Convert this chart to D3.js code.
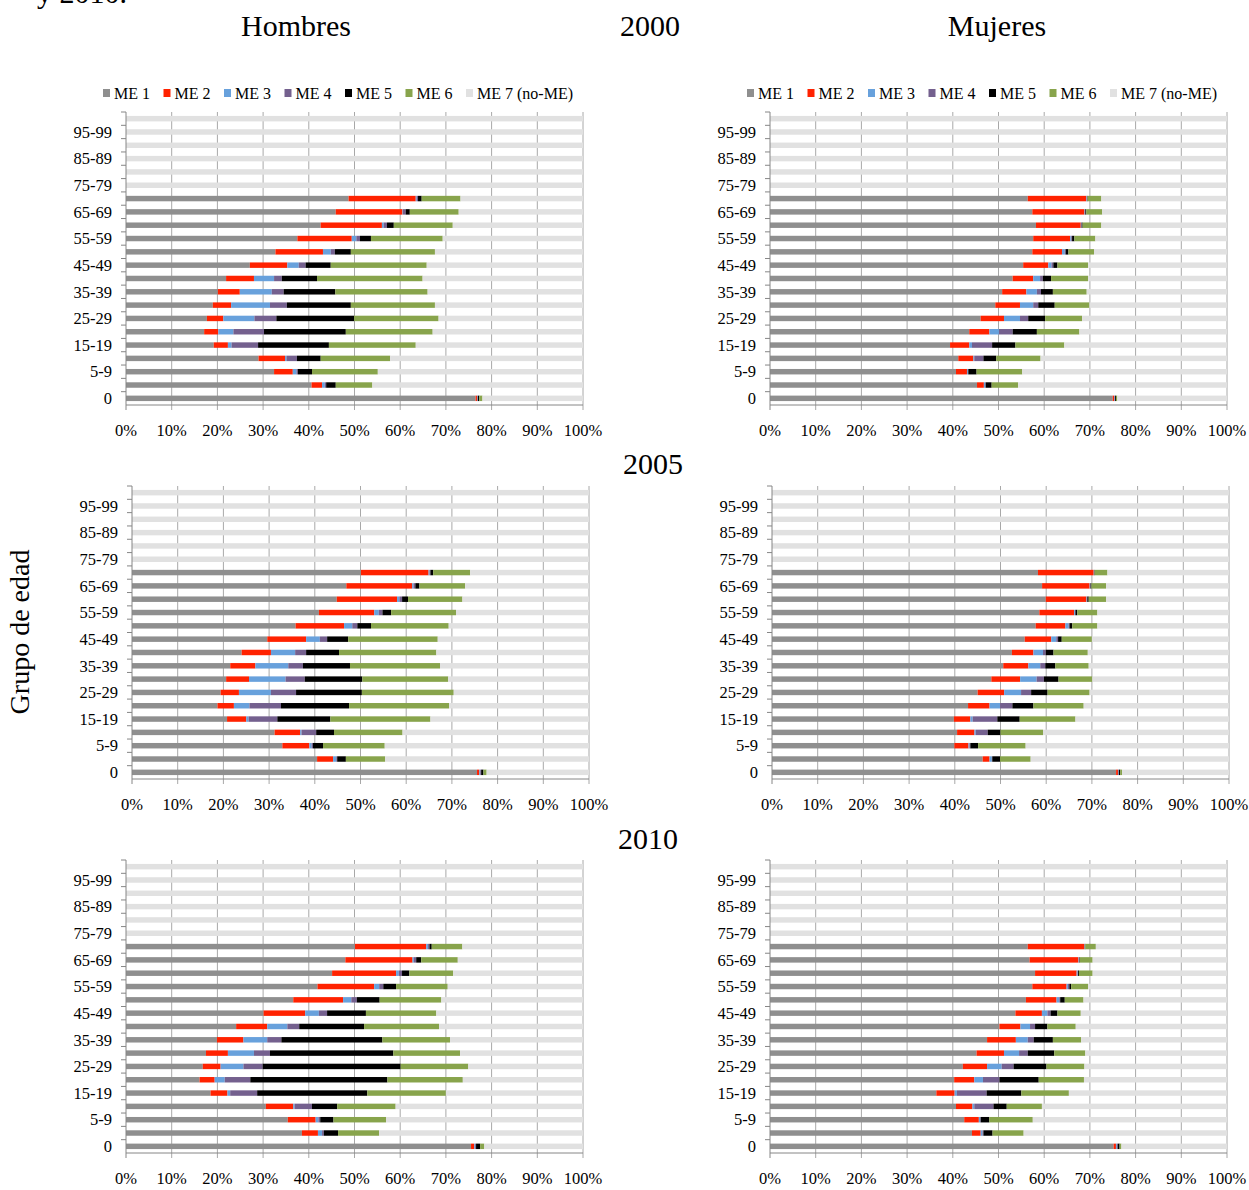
<!DOCTYPE html>
<html>
<head>
<meta charset="utf-8">
<script src="https://cdn.jsdelivr.net/npm/d3@7"></script>
<style>
  body { margin: 0; background: #fff; }
  svg { display: block; font-family: "Liberation Serif", "Times New Roman", serif; }
</style>
</head>
<body>
<div id="visualization"></div>
<script>
// Grupos de edad (de abajo hacia arriba)
const ageGroups = ["0", "1-4", "5-9", "10-14", "15-19", "20-24", "25-29", "30-34", "35-39", "40-44",
  "45-49", "50-54", "55-59", "60-64", "65-69", "70-74", "75-79", "80-84", "85-89", "90-94", "95-99", "100+"];
const seriesNames = ["ME 1", "ME 2", "ME 3", "ME 4", "ME 5", "ME 6", "ME 7 (no-ME)"];
const seriesColors = ["#8f8f8f", "#ff2200", "#68a1dc", "#74608e", "#000000", "#88a44c", "#e1e1e1"];
const xTickValues = [0, 10, 20, 30, 40, 50, 60, 70, 80, 90, 100];

// Hombres 2000
const h2000_me1 = [76.5, 40.6, 32.4, 29.0, 19.2, 17.1, 17.7, 19.0, 20.1, 21.9, 27.1, 32.7, 37.5, 42.6, 45.9, 48.7, 0, 0, 0, 0, 0, 0];
const h2000_me2 = [0.3, 2.3, 4.1, 5.8, 3.1, 3.1, 3.6, 4.0, 4.8, 6.1, 8.2, 10.4, 11.9, 13.4, 14.6, 14.7, 0, 0, 0, 0, 0, 0];
const h2000_me3 = [0.1, 0.6, 0.8, 0.3, 0.8, 3.3, 6.8, 8.5, 7.0, 4.4, 2.5, 1.7, 1.0, 0.4, 0.1, 0.2, 0, 0, 0, 0, 0, 0];
const h2000_me4 = [0.1, 0.3, 0.3, 2.3, 5.8, 6.7, 4.8, 3.7, 2.6, 1.7, 1.5, 0.9, 0.8, 0.7, 0.6, 0.3, 0, 0, 0, 0, 0, 0];
const h2000_me5 = [0.3, 2.1, 3.1, 5.2, 15.5, 17.9, 17.0, 14.0, 11.3, 7.7, 5.5, 3.5, 2.4, 1.5, 0.9, 0.8, 0, 0, 0, 0, 0, 0];
const h2000_me6 = [0.7, 8.0, 14.4, 15.2, 19.0, 19.0, 18.5, 18.4, 20.2, 23.1, 21.0, 18.4, 15.7, 12.9, 10.7, 8.5, 0, 0, 0, 0, 0, 0];
const h2000_me7 = [22.0, 46.1, 44.9, 42.2, 36.6, 32.9, 31.6, 32.4, 34.0, 35.1, 34.2, 32.4, 30.7, 28.5, 27.2, 26.8, 100, 100, 100, 100, 100, 100];

// Mujeres 2000
const m2000_me1 = [75.0, 45.3, 40.7, 41.2, 39.4, 43.6, 46.1, 49.3, 50.8, 53.1, 55.4, 57.4, 57.6, 58.2, 57.4, 56.4, 0, 0, 0, 0, 0, 0];
const m2000_me2 = [0.3, 1.5, 2.4, 3.3, 4.2, 4.4, 5.1, 5.4, 5.3, 4.5, 5.5, 6.5, 8.1, 9.8, 11.4, 12.8, 0, 0, 0, 0, 0, 0];
const m2000_me3 = [0.1, 0.3, 0.2, 0.2, 0.6, 2.1, 3.5, 2.9, 2.3, 1.5, 0.7, 0.6, 0.2, 0.1, 0.1, 0.1, 0, 0, 0, 0, 0, 0];
const m2000_me4 = [0.1, 0.1, 0.1, 2.0, 4.4, 3.0, 1.8, 1.1, 0.9, 0.6, 0.4, 0.2, 0.2, 0.1, 0.1, 0.1, 0, 0, 0, 0, 0, 0];
const m2000_me5 = [0.2, 1.3, 1.8, 2.8, 5.1, 5.3, 3.7, 3.6, 2.6, 1.8, 0.9, 0.6, 0.5, 0.2, 0.2, 0.1, 0, 0, 0, 0, 0, 0];
const m2000_me6 = [0.3, 5.8, 10.0, 9.7, 10.7, 9.3, 8.1, 7.6, 7.4, 8.1, 6.7, 5.6, 4.6, 4.1, 3.5, 3.0, 0, 0, 0, 0, 0, 0];
const m2000_me7 = [24.0, 45.7, 44.8, 40.8, 35.6, 32.3, 31.7, 30.1, 30.7, 30.4, 30.4, 29.1, 28.8, 27.5, 27.3, 27.5, 100, 100, 100, 100, 100, 100];

// Hombres 2005
const h2005_me1 = [75.5, 40.5, 32.9, 31.2, 20.8, 18.7, 19.4, 20.6, 21.5, 24.0, 29.6, 35.8, 40.9, 44.8, 46.9, 50.1, 0, 0, 0, 0, 0, 0];
const h2005_me2 = [0.5, 3.5, 5.9, 5.6, 4.2, 3.6, 4.0, 5.0, 5.5, 6.4, 8.5, 10.6, 12.1, 13.2, 14.4, 14.8, 0, 0, 0, 0, 0, 0];
const h2005_me3 = [0.2, 0.7, 0.5, 0.3, 0.5, 3.4, 7.0, 8.0, 7.2, 5.3, 3.0, 1.8, 1.0, 0.5, 0.3, 0.2, 0, 0, 0, 0, 0, 0];
const h2005_me4 = [0.2, 0.2, 0.3, 3.2, 6.3, 6.9, 5.5, 4.2, 3.2, 2.4, 1.6, 1.1, 0.8, 0.6, 0.4, 0.2, 0, 0, 0, 0, 0, 0];
const h2005_me5 = [0.5, 1.9, 2.2, 3.9, 11.6, 14.9, 14.4, 12.6, 10.3, 7.2, 4.6, 3.0, 1.9, 1.3, 0.9, 0.6, 0, 0, 0, 0, 0, 0];
const h2005_me6 = [0.7, 8.6, 13.5, 15.0, 21.9, 21.9, 20.1, 18.8, 19.7, 21.3, 19.6, 17.0, 14.2, 11.9, 10.0, 8.1, 0, 0, 0, 0, 0, 0];
const h2005_me7 = [22.4, 44.6, 44.7, 40.8, 34.7, 30.6, 29.6, 30.8, 32.6, 33.4, 33.1, 30.7, 29.1, 27.7, 27.1, 26.0, 100, 100, 100, 100, 100, 100];

// Mujeres 2005
const m2005_me1 = [75.3, 46.1, 39.9, 40.5, 39.8, 42.9, 45.0, 48.0, 50.6, 52.5, 55.3, 57.7, 58.5, 59.9, 59.1, 58.2, 0, 0, 0, 0, 0, 0];
const m2005_me2 = [0.4, 1.5, 3.1, 3.8, 3.6, 4.7, 5.8, 6.3, 5.5, 4.7, 5.8, 6.5, 7.6, 8.9, 10.4, 12.2, 0, 0, 0, 0, 0, 0];
const m2005_me3 = [0.1, 0.5, 0.2, 0.3, 0.5, 2.3, 3.7, 3.6, 2.6, 2.1, 1.1, 0.7, 0.2, 0.1, 0.1, 0.1, 0, 0, 0, 0, 0, 0];
const m2005_me4 = [0.1, 0.1, 0.2, 2.6, 5.4, 2.7, 2.2, 1.6, 1.1, 0.6, 0.4, 0.2, 0.1, 0.1, 0.1, 0.0, 0, 0, 0, 0, 0, 0];
const m2005_me5 = [0.3, 1.7, 1.7, 2.8, 4.9, 4.6, 3.6, 3.2, 2.2, 1.7, 0.8, 0.6, 0.4, 0.3, 0.2, 0.1, 0, 0, 0, 0, 0, 0];
const m2005_me6 = [0.4, 6.7, 10.4, 9.3, 12.2, 11.0, 9.2, 7.4, 7.3, 7.5, 6.6, 5.5, 4.4, 3.8, 3.2, 2.8, 0, 0, 0, 0, 0, 0];
const m2005_me7 = [23.4, 43.4, 44.5, 40.7, 33.6, 31.8, 30.5, 29.9, 30.7, 30.9, 30.0, 28.8, 28.8, 26.9, 26.9, 26.6, 100, 100, 100, 100, 100, 100];

// Hombres 2010
const h2010_me1 = [75.5, 38.5, 35.4, 30.6, 18.5, 16.1, 16.8, 17.5, 19.9, 24.1, 30.1, 36.6, 41.9, 45.1, 48.0, 50.1, 0, 0, 0, 0, 0, 0];
const h2010_me2 = [0.7, 3.5, 6.1, 6.0, 3.7, 3.3, 3.9, 4.8, 5.8, 6.8, 9.1, 10.9, 12.4, 14.0, 14.7, 15.6, 0, 0, 0, 0, 0, 0];
const h2010_me3 = [0.2, 0.9, 0.6, 0.3, 0.6, 2.2, 5.0, 5.7, 5.2, 4.4, 3.0, 1.8, 1.1, 0.6, 0.3, 0.4, 0, 0, 0, 0, 0, 0];
const h2010_me4 = [0.2, 0.4, 0.4, 3.8, 5.9, 5.6, 4.2, 3.5, 3.1, 2.6, 1.8, 1.2, 0.9, 0.7, 0.5, 0.3, 0, 0, 0, 0, 0, 0];
const h2010_me5 = [0.9, 3.1, 2.9, 5.5, 24.1, 30.0, 30.2, 27.0, 22.1, 14.2, 8.5, 5.0, 2.8, 1.6, 1.1, 0.5, 0, 0, 0, 0, 0, 0];
const h2010_me6 = [0.9, 9.0, 11.5, 12.8, 17.2, 16.5, 14.8, 14.6, 14.8, 16.4, 15.4, 13.5, 11.3, 9.6, 8.0, 6.7, 0, 0, 0, 0, 0, 0];
const h2010_me7 = [21.6, 44.6, 43.1, 41.0, 30.0, 26.3, 25.1, 26.9, 29.1, 31.5, 32.1, 31.0, 29.6, 28.4, 27.4, 26.4, 100, 100, 100, 100, 100, 100];

// Mujeres 2010
const m2010_me1 = [75.2, 44.2, 42.5, 40.7, 36.4, 40.3, 42.2, 45.2, 47.5, 50.2, 53.7, 56.0, 57.4, 58.0, 56.8, 56.4, 0, 0, 0, 0, 0, 0];
const m2010_me2 = [0.5, 1.9, 3.2, 3.6, 4.0, 4.4, 5.3, 6.0, 6.3, 4.6, 5.8, 6.7, 7.5, 9.1, 10.7, 12.4, 0, 0, 0, 0, 0, 0];
const m2010_me3 = [0.2, 0.4, 0.3, 0.4, 0.5, 1.9, 3.2, 3.3, 2.6, 2.1, 1.2, 0.6, 0.3, 0.2, 0.1, 0.1, 0, 0, 0, 0, 0, 0];
const m2010_me4 = [0.2, 0.2, 0.1, 4.2, 6.5, 3.6, 2.6, 1.9, 1.3, 1.1, 0.7, 0.2, 0.3, 0.1, 0.1, 0.0, 0, 0, 0, 0, 0, 0];
const m2010_me5 = [0.4, 2.0, 1.9, 2.9, 7.6, 8.6, 7.2, 5.8, 4.2, 2.7, 1.5, 1.0, 0.4, 0.2, 0.1, 0.1, 0, 0, 0, 0, 0, 0];
const m2010_me6 = [0.4, 6.8, 9.5, 7.7, 10.4, 9.9, 8.3, 6.8, 6.2, 6.2, 5.1, 4.1, 3.7, 3.0, 2.8, 2.3, 0, 0, 0, 0, 0, 0];
const m2010_me7 = [23.1, 44.5, 42.5, 40.5, 34.6, 31.3, 31.2, 31.0, 31.9, 33.1, 32.0, 31.4, 30.4, 29.4, 29.4, 28.7, 100, 100, 100, 100, 100, 100];

// Posicion de cada panel (px)
const panels = [
  { series: [h2000_me1, h2000_me2, h2000_me3, h2000_me4, h2000_me5, h2000_me6, h2000_me7], left: 126, top: 112, legend: true },
  { series: [m2000_me1, m2000_me2, m2000_me3, m2000_me4, m2000_me5, m2000_me6, m2000_me7], left: 770, top: 112, legend: true },
  { series: [h2005_me1, h2005_me2, h2005_me3, h2005_me4, h2005_me5, h2005_me6, h2005_me7], left: 132, top: 486, legend: false },
  { series: [m2005_me1, m2005_me2, m2005_me3, m2005_me4, m2005_me5, m2005_me6, m2005_me7], left: 772, top: 486, legend: false },
  { series: [h2010_me1, h2010_me2, h2010_me3, h2010_me4, h2010_me5, h2010_me6, h2010_me7], left: 126, top: 860, legend: false },
  { series: [m2010_me1, m2010_me2, m2010_me3, m2010_me4, m2010_me5, m2010_me6, m2010_me7], left: 770, top: 860, legend: false }
];

const plotW = 457;
const plotH = 293;
const axisColor = "#868686";
const gridColor = "#a8a8a8";

const svg = d3.select("#visualization")
  .append("svg")
  .attr("width", 1249)
  .attr("height", 1190);

// Titulos (el primero aparece cortado en el borde superior, como en el original)
const titles = [
  { text: "y 2010.", x: 37, y: 3, anchor: "start" },
  { text: "Hombres", x: 296, y: 36, anchor: "middle" },
  { text: "2000", x: 650, y: 36, anchor: "middle" },
  { text: "Mujeres", x: 997, y: 36, anchor: "middle" },
  { text: "2005", x: 653, y: 474, anchor: "middle" },
  { text: "2010", x: 648, y: 849, anchor: "middle" }
];
svg.selectAll("text.title")
  .data(titles)
  .enter()
  .append("text")
  .attr("class", "title")
  .attr("x", d => d.x)
  .attr("y", d => d.y)
  .attr("text-anchor", d => d.anchor)
  .style("font-size", "30px")
  .text(d => d.text);

svg.append("text")
  .attr("transform", "translate(29,632) rotate(-90)")
  .attr("text-anchor", "middle")
  .style("font-size", "28px")
  .text("Grupo de edad");

function drawPanel(p) {
  const g = svg.append("g");

  const x = d3.scaleLinear().domain([0, 100]).range([p.left, p.left + plotW]);
  const y = d3.scaleBand()
    .domain(ageGroups)
    .range([p.top + plotH, p.top])
    .paddingInner(0.59)
    .paddingOuter(0.295);

  // Filas para d3.stack
  const rows = ageGroups.map((a, i) => {
    const r = { age: a };
    seriesNames.forEach((s, k) => { r[s] = p.series[k][i]; });
    return r;
  });
  const stacked = d3.stack().keys(seriesNames).offset(d3.stackOffsetExpand)(rows);

  // Lineas de cuadricula
  g.append("g")
    .selectAll("line")
    .data(xTickValues.slice(1))
    .enter()
    .append("line")
    .attr("x1", d => x(d))
    .attr("x2", d => x(d))
    .attr("y1", p.top)
    .attr("y2", p.top + plotH + 5)
    .attr("stroke", gridColor)
    .attr("stroke-width", 1);

  // Barras apiladas al 100%
  g.append("g")
    .selectAll("g")
    .data(stacked)
    .enter()
    .append("g")
    .attr("fill", (d, i) => seriesColors[i])
    .selectAll("rect")
    .data(d => d)
    .enter()
    .append("rect")
    .attr("x", d => x(d[0] * 100))
    .attr("width", d => Math.max(0, x(d[1] * 100) - x(d[0] * 100)))
    .attr("y", d => y(d.data.age))
    .attr("height", y.bandwidth());

  // Eje X
  g.append("line")
    .attr("x1", p.left).attr("x2", p.left + plotW)
    .attr("y1", p.top + plotH).attr("y2", p.top + plotH)
    .attr("stroke", axisColor);
  g.append("line")
    .attr("x1", p.left).attr("x2", p.left)
    .attr("y1", p.top + plotH).attr("y2", p.top + plotH + 5)
    .attr("stroke", axisColor);
  g.append("g")
    .selectAll("text")
    .data(xTickValues)
    .enter()
    .append("text")
    .attr("x", d => x(d))
    .attr("y", p.top + plotH + 31)
    .attr("text-anchor", "middle")
    .style("font-size", "16.5px")
    .text(d => d + "%");

  // Eje Y
  g.append("line")
    .attr("x1", p.left).attr("x2", p.left)
    .attr("y1", p.top).attr("y2", p.top + plotH)
    .attr("stroke", axisColor);
  const step = y.step();
  g.append("g")
    .selectAll("line")
    .data(ageGroups)
    .enter()
    .append("line")
    .attr("x1", p.left - 5)
    .attr("x2", p.left)
    .attr("y1", d => y(d) + y.bandwidth() / 2 - step / 2)
    .attr("y2", d => y(d) + y.bandwidth() / 2 - step / 2)
    .attr("stroke", axisColor);
  g.append("g")
    .selectAll("text")
    .data(ageGroups.filter((a, i) => i % 2 === 0 && i <= 20))
    .enter()
    .append("text")
    .attr("x", p.left - 14)
    .attr("y", d => y(d) + y.bandwidth() / 2)
    .attr("dy", "0.35em")
    .attr("text-anchor", "end")
    .style("font-size", "16.5px")
    .text(d => d);

  // Leyenda
  if (p.legend) {
    const lg = g.append("g")
      .attr("transform", `translate(${p.left - 23},93)`);
    const item = lg.selectAll("g")
      .data(seriesNames)
      .enter()
      .append("g")
      .attr("transform", (d, i) => `translate(${i * 60.5},0)`);
    item.append("rect")
      .attr("x", 0).attr("y", -4)
      .attr("width", 7).attr("height", 8)
      .attr("fill", (d, i) => seriesColors[i]);
    item.append("text")
      .attr("x", 11)
      .attr("dy", "0.35em")
      .style("font-size", "16px")
      .text(d => d);
  }
}

panels.forEach(drawPanel);
</script>
</body>
</html>
